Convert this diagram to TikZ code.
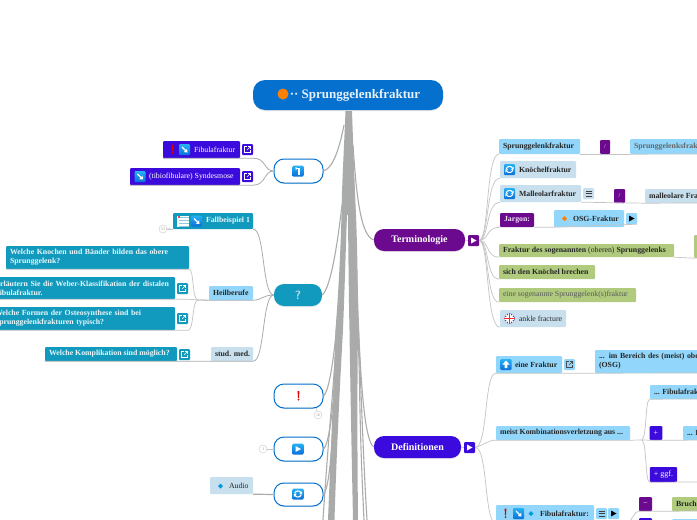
\documentclass[tikz,border=0pt]{standalone}
\usepackage{fontspec}
\setmainfont{Liberation Serif}
\usetikzlibrary{shadows,calc}
\definecolor{cRoot}{HTML}{0570CE}
\definecolor{cTeal}{HTML}{119ABD}
\definecolor{cIndigo}{HTML}{3A0BDC}
\definecolor{cPurple}{HTML}{6B0A8F}
\definecolor{cSky}{HTML}{92D7FB}
\definecolor{cPale}{HTML}{C8E0EE}
\definecolor{cGreen}{HTML}{B0CB7E}
\definecolor{cLine}{HTML}{ABABAB}
\definecolor{cTrunk}{HTML}{A9ABAB}
\definecolor{cIconA}{HTML}{27B2F5}
\definecolor{cIconB}{HTML}{0A6FD8}
\tikzset{
 basebox/.style={rectangle,inner xsep=4pt,inner ysep=0pt,rounded corners=1pt,align=left,font=\fontsize{7.8}{9.2}\selectfont\bfseries,text=black!85},
 teal/.style={basebox,fill=cTeal,text=white!92!cTeal},
 indigo/.style={basebox,fill=cIndigo,text=white},
 purple/.style={basebox,fill=cPurple,text=white!88!cPurple},
 sky/.style={basebox,fill=cSky},
 pale/.style={basebox,fill=cPale},
 green/.style={basebox,fill=cGreen},
 pillshadow/.style={drop shadow={opacity=.18,shadow xshift=0pt,shadow yshift=-1pt}},
 pill/.style={rectangle,rounded corners=10pt,inner sep=0pt,align=center,font=\fontsize{10}{11}\selectfont\bfseries,text=white,pillshadow},
 whitepill/.style={pill,fill=white,draw=cRoot,line width=1pt},
 conn/.style={draw=cLine,line width=.8pt},
 connfine/.style={draw=cLine!70,line width=.7pt},
 branch/.style={draw=cLine,line width=1.1pt},
 foldcirc/.style={circle,draw=black!22,fill=white,line width=.4pt,minimum size=8pt,inner sep=0pt,font=\fontsize{4}{4}\selectfont,text=black!40},
 trunkfill/.style={fill=cTrunk,draw=none},
}
% single-line box from corner to corner
\def\bx#1(#2,#3)(#4,#5)#6#7{%
 \pgfmathsetmacro\bW{#4-#2}\pgfmathsetmacro\bH{#5-#3}%
 \pgfmathsetmacro\bXc{(#2+#4)/2}\pgfmathsetmacro\bYc{(#3+#5)/2}%
 \pgfmathsetlengthmacro\bT{max(\bW-8,1)}%
 \node[#6,minimum width=\bW pt,minimum height=\bH pt] (#1) at (\bXc,\bYc) {\makebox[\bT][l]{#7}};}
% two-line box, breaks written out
\def\mbx#1(#2,#3)(#4,#5)#6#7{%
 \pgfmathsetmacro\bW{#4-#2}\pgfmathsetmacro\bH{#5-#3}%
 \pgfmathsetmacro\bXc{(#2+#4)/2}\pgfmathsetmacro\bYc{(#3+#5)/2}%
 \node[#6,minimum width=\bW pt,minimum height=\bH pt,text width=\bW pt-8pt] (#1) at (\bXc,\bYc) {#7};}
\def\pl#1(#2,#3)(#4,#5)#6#7{%
 \pgfmathsetmacro\bW{#4-#2}\pgfmathsetmacro\bH{#5-#3}%
 \pgfmathsetmacro\bXc{(#2+#4)/2}\pgfmathsetmacro\bYc{(#3+#5)/2}%
 \node[#6,minimum width=\bW pt,minimum height=\bH pt] (#1) at (\bXc,\bYc) {#7};}
% icons
\def\icbase(#1,#2){\shade[top color=cIconA,bottom color=cIconB,rounded corners=1pt] (#1-5.5,#2-5.5) rectangle (#1+5.5,#2+5.5);}
\def\icSE(#1,#2){\icbase(#1,#2)\draw[white,line width=1.3pt] (#1-2.5,#2-2.5)--(#1+1.5,#2+1.5);\fill[white] (#1+3,#2+3)--(#1-.8,#2+2.6)--(#1+2.6,#2-.8)--cycle;}
\def\icUP(#1,#2){\icbase(#1,#2)\fill[white] (#1,#2-4)--(#1+3.6,#2)--(#1+1.4,#2)--(#1+1.4,#2+3.5)--(#1-1.4,#2+3.5)--(#1-1.4,#2)--(#1-3.6,#2)--cycle;}
\def\icTURN(#1,#2){\icbase(#1,#2)\draw[white,line width=1.3pt] (#1-2.5,#2-2.5)--(#1+1,#2-2.5)--(#1+1,#2+3.5);\fill[white] (#1-2.5,#2-4.2)--(#1-.5,#2-2.5)--(#1-2.5,#2-.8)--cycle;}
\def\icCYC(#1,#2){\icbase(#1,#2)\draw[white,line width=1.1pt] (#1-3.2,#2-.5) .. controls (#1-2.6,#2-3.6) and (#1+1.5,#2-3.8) .. (#1+3,#2-1.5);\draw[white,line width=1.1pt] (#1+3.2,#2+.5) .. controls (#1+2.6,#2+3.6) and (#1-1.5,#2+3.8) .. (#1-3,#2+1.5);\fill[white] (#1+4.2,#2-3)--(#1+4.2,#2+.2)--(#1+1.2,#2+.2)--cycle;\fill[white] (#1-4.2,#2+3)--(#1-4.2,#2-.2)--(#1-1.2,#2-.2)--cycle;}
\def\icPLAY(#1,#2){\icbase(#1,#2)\fill[white] (#1-2.5,#2-3)--(#1+3,#2)--(#1-2.5,#2+3)--cycle;}
\def\bang(#1,#2){\fill[red!85!black] (#1-.9,#2-5)--(#1+.9,#2-5)--(#1+.5,#2+1.8)--(#1-.5,#2+1.8)--cycle;\fill[red!85!black] (#1,#2+3.7) circle (1);}
\def\gem(#1,#2,#3){\fill[#3] (#1-2.5,#2)--(#1,#2-2.5)--(#1+2.5,#2)--(#1,#2+2.5)--cycle;}
\def\extmark(#1,#2,#3){\draw[#3,line width=.6pt] (#1-.5,#2-3)--(#1-3,#2-3)--(#1-3,#2+3)--(#1+3,#2+3)--(#1+3,#2+.5);\draw[#3,line width=.6pt] (#1-.5,#2+.5)--(#1+3,#2-3);\draw[#3,line width=.6pt] (#1+.8,#2-3)--(#1+3,#2-3)--(#1+3,#2-.8);}
\def\menumark(#1,#2){\draw[black!75,line width=.6pt] (#1-3,#2-2.5)--(#1+3,#2-2.5) (#1-3,#2)--(#1+3,#2) (#1-3,#2+2.5)--(#1+3,#2+2.5);}
\def\playmark(#1,#2,#3){\fill[#3] (#1-2.5,#2-3)--(#1+3,#2)--(#1-2.5,#2+3)--cycle;}
\begin{document}
\begin{tikzpicture}[x=1pt,y=-1pt]
\useasboundingbox (0,0) rectangle (697,520);
\clip (0,0) rectangle (697,520);
\fill[white] (0,0) rectangle (697,520);
% named points of the trunk
\coordinate (bL) at (345.5,111);
\coordinate (bR) at (352,111);
% trunk
\fill[trunkfill] (bL) .. controls (344,150) and (342,180) .. (341.5,215) .. controls (340,270) and (337,310) .. (335.5,330) .. controls (333,400) and (330,470) .. (328,520) -- (334.5,520) .. controls (336,470) and (339,400) .. (343,330) .. controls (345,280) and (346,240) .. (347,215) -- (348,215) .. controls (348.5,270) and (349,310) .. (349.5,330) .. controls (350.5,400) and (352,470) .. (353,520) -- (358,520) .. controls (357.5,470) and (357,400) .. (358,330) .. controls (358,280) and (357,240) .. (356,215) .. controls (354,170) and (353,140) .. (bR) -- cycle;
\draw[branch] (353,160) .. controls (355,240) and (358,330) .. (359.5,380) .. controls (360,430) and (362,480) .. (364,520);
\draw[branch] (354,200) .. controls (357,280) and (362,440) .. (367,520);
\draw[branch] (339,300) .. controls (336,360) and (328,440) .. (323,520);
\draw[branch] (338,320) .. controls (336,380) and (333,440) .. (331,520);
\draw[white,line width=.7pt] (346,300) -- (340,430);
% central nodes
\pl{root}(253,80)(443,110){pill,fill=cRoot,font=\fontsize{13}{14}\selectfont\bfseries,text=white!90!cRoot,rounded corners=12pt}{\hspace*{14pt}·· Sprunggelenkfraktur}
\pl{top}(274,159)(323,183){whitepill}{}
\pl{ques}(274,284)(322,306){pill,fill=cTeal}{\sffamily\fontsize{12}{12}\selectfont\bfseries\textcolor{white!70!cTeal}{?}}
\pl{warn}(274,384)(323,408){whitepill}{}
\pl{play}(274,437)(323,461){whitepill}{}
\pl{cyc}(274,483)(323,506){whitepill}{}
\pl{term}(374,229)(465,251){pill,fill=cPurple}{Terminologie}
\pl{defi}(374,436)(461,458){pill,fill=cIndigo}{Definitionen}
\icTURN(298,171)
\bang(298.5,396)
\icPLAY(298,449)
\icCYC(298,494)
\fill[orange] (283,94) circle (5.5);
% trunk to central nodes
\draw[branch] (top.east) .. controls (334,168) and (340,145) .. (344,125);
\draw[branch] (ques.east) .. controls (331,288) and (338,240) .. (342,205);
\draw[branch] (warn.east) .. controls (330,390) and (335,350) .. (338,310);
\draw[branch] (play.east) .. controls (330,443) and (334,400) .. (337,350);
\draw[branch] (cyc.east) .. controls (330,488) and (332,440) .. (335,400);
\draw[branch] (term.west) .. controls (360,236) and (356,190) .. (353,145);
\draw[branch] (defi.west) .. controls (364,440) and (361,380) .. (358,320);
% top branch
\bx{fib}(163,141)(240,158){indigo,font=\fontsize{7.8}{9}\selectfont}{\hspace*{27pt}\textcolor{white}{Fibulafraktur}}
\bx{fibx}(242,144)(253,155){indigo}{}
\bx{syn}(130,168)(240,185){indigo,font=\fontsize{7.8}{9}\selectfont}{\hspace*{15pt}\textcolor{white}{(tibiofibulare) Syndesmose}}
\bx{synx}(242,171)(253,182){indigo}{}
\bang(172.5,149.5)
\icSE(184.5,149.5)
\icSE(140,176.5)
\extmark(247.5,149.5,white)
\extmark(247.5,176.5,white)
\draw[conn] (top.west) .. controls (264,171) and (266,158) .. (fibx.east |- fib.south) -- (fib.south west);
\draw[conn] (top.west) .. controls (264,171) and (266,185) .. (synx.east |- syn.south) -- (syn.south west);
% question branch
\bx{fall}(173,213)(253,229){teal}{\hspace*{29pt}Fallbeispiel 1}
\draw[conn] (ques.west) .. controls (262,295) and (265,229) .. (fall.south east);
\node[foldcirc] (fold1) at (163,229) {53};
\draw[conn] (fold1) -- (fall.south west);
\fill[white] (177,215.5) rectangle (189,227);
\foreach \yy in {217,220,223,226}{\draw[cTeal!50,line width=1pt] (179,\yy)--(189,\yy);}
\fill[red!75] (177.5,216) rectangle (180,218);
\icSE(196.5,221)
\bx{heil}(209,286)(253,300){sky}{Heilberufe}
\bx{stud}(211,347)(253,361){pale}{stud. med.}
\mbx{q1}(6,246)(189,269){teal}{Welche Knochen und Bänder bilden das obere\\Sprunggelenk?}
\mbx{q2}(-9,277)(175,299){teal}{Erläutern Sie die Weber-Klassifikation der distalen\\Fibulafraktur.}
\mbx{q3}(-9,307)(175,330){teal}{Welche Formen der Osteosynthese sind bei\\Sprunggelenkfrakturen typisch?}
\bx{q4}(45,347)(177,361){teal}{Welche Komplikation sind möglich?}
\bx{q2x}(177,283)(188,294){teal}{}
\bx{q3x}(177,313)(188,324){teal}{}
\bx{q4x}(179,349)(190,360){teal}{}
\extmark(182.5,288.5,white)
\extmark(182.5,318.5,white)
\extmark(184.5,354.5,white)
\draw[conn] (ques.west) .. controls (263,295) and (262,300) .. (heil.south east) -- (heil.south west) -- (198,300);
\draw[conn] (ques.west) .. controls (262,295) and (265,361) .. (stud.south east) -- (stud.south west) -- (q4x.east |- q4.south) -- (q4.south west);
\draw[connfine] (heil.south west) -- (198,300) .. controls (192,300) and (194,269) .. (q1.south east) -- (q1.south west);
\draw[connfine] (198,300) -- (q2x.east |- q2.south) -- (q2.south west);
\draw[connfine] (198,300) .. controls (192,300) and (194,330) .. (q3x.east |- q3.south) -- (q3.south west);
% other left items
\node[foldcirc] (fold2) at (318,415) {16};
\draw[connfine] (warn.south east) ++(-7,0) -- (fold2);
\node[foldcirc] (fold3) at (263,449) {3};
\draw[connfine] (fold3) -- (play.west);
\bx{aud}(210,477)(253,494){pale,font=\fontsize{7.8}{9}\selectfont}{\hspace*{15pt}Audio}
\gem(220.5,486,cRoot!70!cyan)
\draw[cLine,line width=1.2pt] (aud.south east) -- (cyc.west);
% Terminologie
\bx{tplay}(468,235)(479,246){purple}{}
\playmark(473.5,240.5,white)
\draw[connfine] (term.east) -- (tplay.west);
\bx{t1}(499,139)(580,154){sky}{Sprunggelenkfraktur}
\pl{t1s}(600,140)(610,154){purple,font=\fontsize{6}{7}\selectfont}{/}
\bx{t1b}(630,139)(760,154){sky,text=black!60}{Sprunggelenksfraktur}
\bx{t2}(500,161)(576,178){pale}{\hspace*{15pt}Knöchelfraktur}
\bx{t3}(500,185)(581,202){pale}{\hspace*{15pt}Malleolarfraktur}
\bx{t3m}(583,188)(594,199){pale}{}
\pl{t3s}(614,189)(625,203){purple,font=\fontsize{6}{7}\selectfont}{/}
\bx{t3b}(645,189)(760,203){pale}{malleolare Fraktur}
\bx{t4}(500,213)(534,227){purple}{Jargon:}
\bx{t4b}(554,210)(624,227){sky}{\hspace*{15pt}OSG-Fraktur}
\bx{t4p}(626,213)(637,224){sky}{}
\bx{t5}(499,244)(674,257){green}{Fraktur des sogenannten \mdseries(oberen)\bfseries{} Sprunggelenks}
\bx{t5b}(694,235)(760,258){green}{}
\bx{t6}(499,265)(595,279){green}{sich den Knöchel brechen}
\bx{t7}(499,288)(636,302){green,font=\fontsize{7.8}{9}\selectfont,text=black!65}{eine sogenannte Sprunggelenk(s)fraktur}
\bx{t8}(500,310)(566,327){pale,font=\fontsize{7.8}{9}\selectfont}{\hspace*{15pt}ankle fracture}
\icCYC(509.5,169.5)
\icCYC(509.5,193.5)
\menumark(588.5,193.5)
\gem(564.5,218.5,orange)
\playmark(631.5,218.5,black)
% flag
\fill[blue!60!black!70] (509.5,318.5) circle (5.5);
\begin{scope}
\clip (509.5,318.5) circle (5.5);
\draw[white,line width=1.6pt] (504,313)--(515,324) (504,324)--(515,313);
\draw[white,line width=3pt] (504,318.5)--(515,318.5) (509.5,313)--(509.5,324);
\draw[red!85,line width=1.6pt] (504,318.5)--(515,318.5) (509.5,313)--(509.5,324);
\end{scope}
\foreach \c in {t1,t2,t3,t4,t5,t6,t7,t8}{
 \draw[connfine] (tplay.east) .. controls (489,240) and (\c.south west -| 486,0) .. (\c.south west);
}
\draw[connfine] (t1.south east) -- (t1b.south west);
\draw[connfine] (t1b.south west) -- (697,154);
\draw[connfine] (t3.south east) -- (t3b.south west) -- (697,203);
\draw[connfine] (t4.south east) -- (t4b.south west) -- (t4p.south east);
\draw[connfine] (t5.south east) -- (t5b.south west) -- (697,258);
% Definitionen
\bx{dplay}(464,442)(475,453){indigo}{}
\playmark(469.5,447.5,white)
\draw[connfine] (defi.east) -- (dplay.west);
\bx{d1}(496,356)(562,373){sky}{\hspace*{15pt}eine Fraktur}
\bx{d1x}(564,359)(575,370){sky}{}
\mbx{d1b}(595,350)(800,373){sky}{... im Bereich des (meist) oberen Sprunggelenks\\(OSG)}
\bx{d2}(496,426)(630,440){sky}{meist Kombinationsverletzung aus ...}
\bx{d3}(650,385)(780,399){sky}{... Fibulafraktur}
\pl{d4}(650,426)(662,440){indigo,font=\fontsize{8}{9}\selectfont}{+}
\bx{d5}(683,426)(780,440){sky}{... I}
\pl{d6}(650,467)(677,482){indigo,font=\fontsize{8}{9}\selectfont}{+ ggf.}
\bx{d7}(496,505)(594,523){sky}{\hspace*{40pt}Fibulafraktur:}
\bx{d7m}(596,508)(607,519){sky}{}
\bx{d7p}(608,508)(619,519){sky}{}
\pl{d8}(639,497)(652,511){purple,font=\fontsize{8}{9}\selectfont}{−}
\bx{d9}(672,497)(760,511){green}{Bruch}
\bx{d10}(639,518)(652,530){indigo}{}
\bx{d11}(672,519)(760,530){sky}{}
\icUP(506,364.5)
\extmark(569.5,364.5,black!70)
\bang(505.5,513.5)
\icSE(518.5,513.5)
\gem(531,513.5,cRoot!70!cyan)
\menumark(601.5,513.5)
\playmark(613.5,513.5,black)
\draw[connfine] (dplay.east) .. controls (488,447) and (484,373) .. (d1.south west) -- (d1b.south west) -- (697,373);
\draw[connfine] (dplay.east) .. controls (484,445) and (488,440) .. (d2.south west) -- (d2.south east);
\draw[connfine] (dplay.east) .. controls (488,447) and (484,523) .. (d7.south west);
\draw[connfine] (d2.south east) -- (642,440) .. controls (647,436) and (645,399) .. (d3.south west) -- (697,399);
\draw[connfine] (642,440) -- (d4.south west) -- (d5.south west) -- (697,440);
\draw[connfine] (642,440) .. controls (647,444) and (645,482) .. (d6.south west) -- (697,482);
\draw[connfine] (d7p.east |- d7.south) -- (628,522) .. controls (633,520) and (634,511) .. (d8.south west) -- (d9.south west) -- (697,511);
\end{tikzpicture}
\end{document}
